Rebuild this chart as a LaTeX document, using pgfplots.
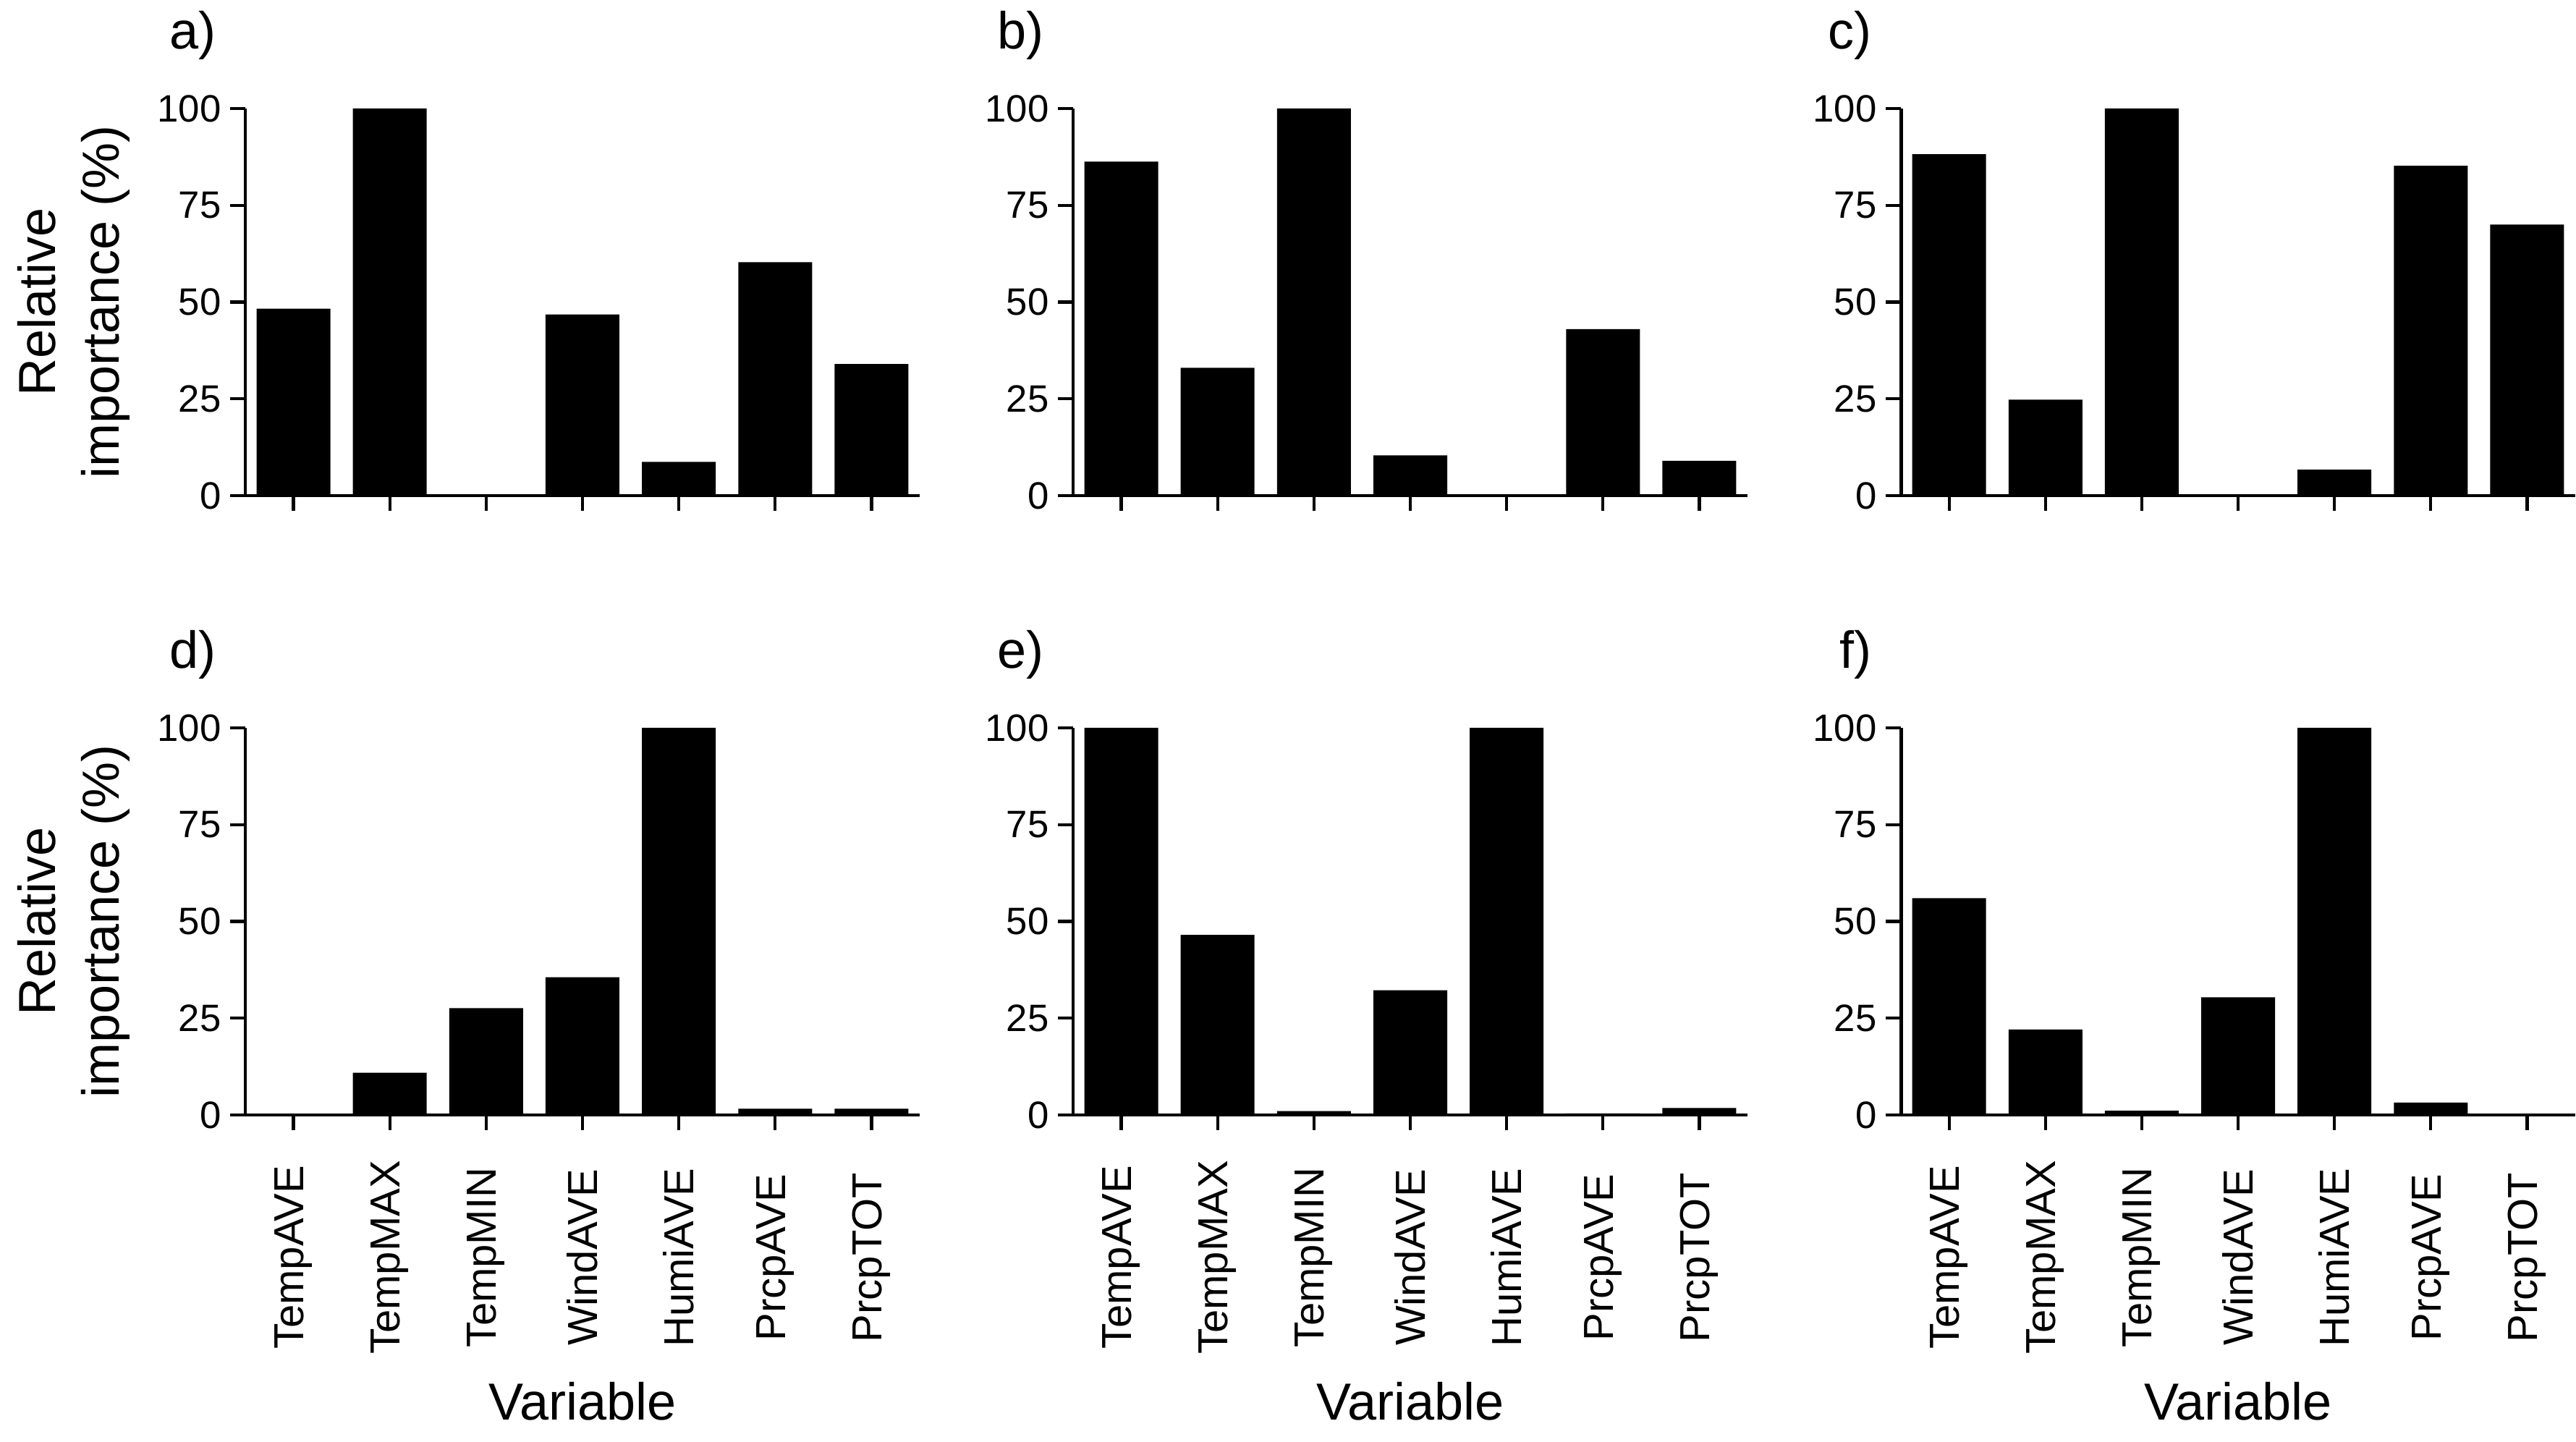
\documentclass[border=0pt]{standalone}
\usepackage{pgfplots}
\pgfplotsset{compat=1.18}
\usepackage{fontspec}
\setmainfont{Liberation Sans}

\pgfplotsset{
  relimp/.style={
    scale only axis, width=9.32cm, height=5.35cm,
    anchor=south west,
    xmin=-0.5, xmax=6.5, ymin=0, ymax=100,
    axis lines=left,
    axis line style={-, line width=1.4pt},
    x axis line style={shorten <=-0.2cm},
    xtick={0,...,6}, ytick={0,25,50,75,100},
    xticklabels={},
    tick align=outside, major tick length=0.21cm,
    tick style={line width=1.2pt, black},
    /pgf/number format/assume math mode=true,
    ticklabel style={font=\fontsize{15}{18}\selectfont},
    clip=false,
  },
  leftcol/.style={
    ylabel={Relative\\importance (\%)},
    ylabel style={at={(axis description cs:-0.1706,0.5)}, anchor=south,
      inner sep=0pt, align=center, font=\fontsize{20.5}{25}\selectfont},
  },
  bottomrow/.style={
    xticklabels={TempAVE,TempMAX,TempMIN,WindAVE,HumiAVE,PrcpAVE,PrcpTOT},
    xticklabel style={rotate=90, anchor=center, font=\fontsize{16.5}{20}\selectfont},
    xticklabel shift=1.76cm,
    xlabel={Variable},
    xlabel style={at={(axis description cs:0.5,0)}, anchor=center,
      yshift=-3.96cm, font=\fontsize{20.5}{25}\selectfont},
  },
  bars/.style={ybar, bar width=1.02cm, fill=black, draw=none},
}
\tikzset{
  panel/.style={anchor=base east, inner sep=0pt, xshift=-0.4cm, yshift=0.82cm,
    font=\fontsize{20.5}{25}\selectfont},
}

\begin{document}
\begin{tikzpicture}
\useasboundingbox (0,0) rectangle (35.6,19.93);

% top row
\begin{axis}[relimp, leftcol, at={(3.39cm,13.08cm)}]
  \addplot[bars] coordinates {(0,48.3) (1,100) (2,0) (3,46.8) (4,8.7) (5,60.3) (6,34.0)};
  \node[panel] at (rel axis cs:0,1) {a)};
\end{axis}
\begin{axis}[relimp, at={(14.83cm,13.08cm)}]
  \addplot[bars] coordinates {(0,86.3) (1,33.0) (2,100) (3,10.4) (4,0) (5,43.0) (6,9.0)};
  \node[panel] at (rel axis cs:0,1) {b)};
\end{axis}
\begin{axis}[relimp, at={(26.27cm,13.08cm)}]
  \addplot[bars] coordinates {(0,88.2) (1,24.8) (2,100) (3,0) (4,6.7) (5,85.2) (6,70.0)};
  \node[panel] at (rel axis cs:0,1) {c)};
\end{axis}

% bottom row
\begin{axis}[relimp, leftcol, bottomrow, at={(3.39cm,4.52cm)}]
  \addplot[bars] coordinates {(0,0.2) (1,10.9) (2,27.6) (3,35.6) (4,100) (5,1.6) (6,1.6)};
  \node[panel] at (rel axis cs:0,1) {d)};
\end{axis}
\begin{axis}[relimp, bottomrow, at={(14.83cm,4.52cm)}]
  \addplot[bars] coordinates {(0,100) (1,46.5) (2,1.0) (3,32.2) (4,100) (5,0.4) (6,1.8)};
  \node[panel] at (rel axis cs:0,1) {e)};
\end{axis}
\begin{axis}[relimp, bottomrow, at={(26.27cm,4.52cm)}]
  \addplot[bars] coordinates {(0,56.0) (1,22.1) (2,1.1) (3,30.4) (4,100) (5,3.2) (6,0.3)};
  \node[panel] at (rel axis cs:0,1) {f)};
\end{axis}
\end{tikzpicture}
\end{document}
